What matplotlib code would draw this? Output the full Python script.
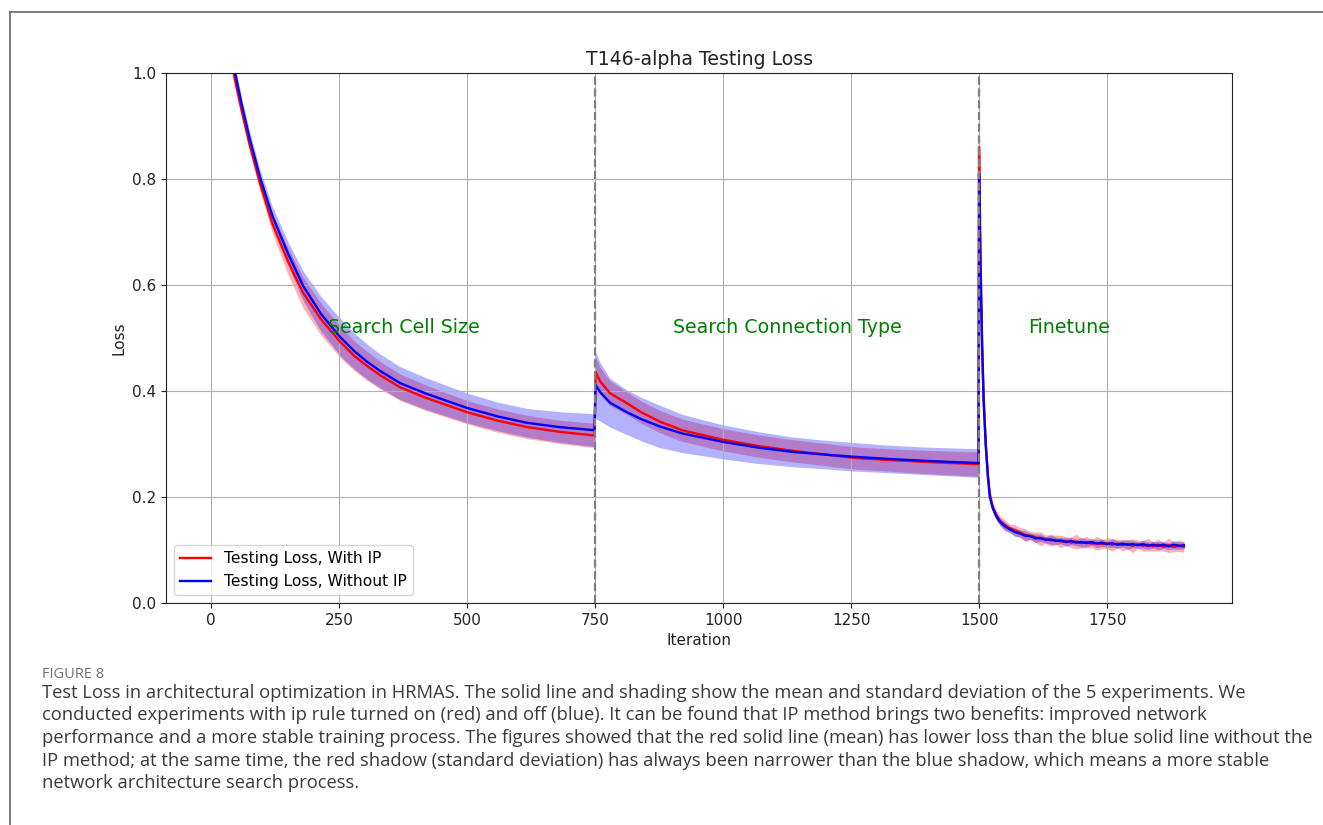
import matplotlib
matplotlib.use("Agg")
import matplotlib.pyplot as plt
from matplotlib.lines import Line2D

plt.rcParams["font.family"] = ["DejaVu Sans"]

# values
iteration = [
    5, 20, 35, 47, 60, 75, 96, 120, 150, 180, 215, 252, 280, 305, 330, 369,
    420, 500, 560, 617, 680, 749,
    751, 760, 779, 812, 840, 877, 920, 1000, 1070, 1137, 1200, 1254, 1320,
    1400, 1499,
    1500, 1503, 1506, 1509, 1513, 1517, 1521, 1527, 1534, 1541, 1550, 1560,
    1570, 1580, 1590, 1600, 1610, 1620, 1630, 1640, 1650, 1660, 1670, 1680,
    1690, 1700, 1710, 1720, 1730, 1740, 1750, 1760, 1770, 1780, 1790, 1800,
    1810, 1820, 1830, 1840, 1850, 1860, 1870, 1880, 1890, 1900,
]

loss_with_ip = [
    1.24, 1.14, 1.05, 0.985, 0.928, 0.866, 0.790, 0.715, 0.645, 0.585, 0.535,
    0.493, 0.466, 0.447, 0.430, 0.407, 0.387, 0.360, 0.344, 0.332, 0.323,
    0.316,
    0.436, 0.418, 0.396, 0.377, 0.360, 0.342, 0.326, 0.308, 0.296, 0.287,
    0.280, 0.274, 0.270, 0.266, 0.262,
    0.860, 0.640, 0.490, 0.385, 0.300, 0.245, 0.205, 0.180, 0.165, 0.155,
    0.147, 0.141, 0.137, 0.133, 0.128, 0.127, 0.124, 0.121, 0.121, 0.118,
    0.119, 0.116, 0.117, 0.114, 0.116, 0.113, 0.115, 0.112, 0.113, 0.111,
    0.113, 0.110, 0.112, 0.109, 0.111, 0.108, 0.111, 0.108, 0.110, 0.107,
    0.110, 0.106, 0.109, 0.106, 0.108, 0.106,
]

std_with_ip = [
    0.010, 0.010, 0.010, 0.010, 0.011, 0.012, 0.014, 0.018, 0.025, 0.029,
    0.030, 0.030, 0.028, 0.027, 0.026, 0.025, 0.024, 0.022, 0.022, 0.022,
    0.022, 0.023,
    0.028, 0.026, 0.023, 0.021, 0.021, 0.021, 0.021, 0.021, 0.021, 0.021,
    0.021, 0.021, 0.021, 0.022, 0.023,
    0.015, 0.015, 0.014, 0.013, 0.012, 0.011, 0.010, 0.009, 0.009, 0.009,
    0.010, 0.008, 0.011, 0.009, 0.012, 0.008, 0.010, 0.013, 0.008, 0.011,
    0.009, 0.012, 0.008, 0.010, 0.014, 0.009, 0.011, 0.008, 0.013, 0.009,
    0.010, 0.012, 0.008, 0.011, 0.009, 0.013, 0.008, 0.010, 0.012, 0.009,
    0.011, 0.008, 0.014, 0.009, 0.011, 0.010,
]

loss_without_ip = [
    1.25, 1.15, 1.06, 1.00, 0.940, 0.878, 0.802, 0.730, 0.660, 0.598, 0.545,
    0.502, 0.475, 0.455, 0.438, 0.415, 0.395, 0.368, 0.352, 0.340, 0.332,
    0.326,
    0.411, 0.398, 0.378, 0.360, 0.347, 0.333, 0.320, 0.304, 0.293, 0.285,
    0.280, 0.276, 0.272, 0.268, 0.264,
    0.810, 0.620, 0.480, 0.380, 0.300, 0.240, 0.200, 0.178, 0.163, 0.153,
    0.145, 0.139, 0.134, 0.131, 0.127, 0.126, 0.122, 0.123, 0.119, 0.120,
    0.117, 0.118, 0.115, 0.117, 0.114, 0.115, 0.113, 0.115, 0.112, 0.114,
    0.111, 0.113, 0.110, 0.112, 0.110, 0.111, 0.109, 0.111, 0.108, 0.110,
    0.108, 0.110, 0.107, 0.110, 0.108, 0.109,
]

std_without_ip = [
    0.012, 0.012, 0.012, 0.012, 0.012, 0.013, 0.014, 0.017, 0.022, 0.028,
    0.033, 0.035, 0.034, 0.033, 0.032, 0.031, 0.030, 0.028, 0.027, 0.027,
    0.029, 0.031,
    0.063, 0.055, 0.046, 0.042, 0.041, 0.040, 0.036, 0.032, 0.030, 0.028,
    0.027, 0.027, 0.026, 0.026, 0.027,
    0.012, 0.012, 0.012, 0.011, 0.010, 0.009, 0.008, 0.007, 0.007, 0.007,
    0.008, 0.006, 0.008, 0.007, 0.009, 0.006, 0.008, 0.007, 0.006, 0.009,
    0.007, 0.006, 0.008, 0.007, 0.006, 0.009, 0.007, 0.006, 0.008, 0.007,
    0.006, 0.008, 0.007, 0.006, 0.009, 0.007, 0.006, 0.008, 0.007, 0.006,
    0.008, 0.007, 0.006, 0.008, 0.007, 0.007,
]

phase_starts = [750, 1500]
phase_names = ["Search Cell Size", "Search Connection Type", "Finetune"]
phase_label_x = [377, 1125, 1676]

caption_head = "FIGURE 8"
caption_lines = [
    "Test Loss in architectural optimization in HRMAS. The solid line and shading show the mean and standard deviation of the 5 experiments. We",
    "conducted experiments with ip rule turned on (red) and off (blue). It can be found that IP method brings two benefits: improved network",
    "performance and a more stable training process. The figures showed that the red solid line (mean) has lower loss than the blue solid line without the",
    "IP method; at the same time, the red shadow (standard deviation) has always been narrower than the blue shadow, which means a more stable",
    "network architecture search process.",
]

W, H = 1323, 825
fig = plt.figure(figsize=(W / 100, H / 100), dpi=100)
ax = fig.add_axes([166 / W, 1 - 603 / H, (1232 - 166) / W, (603 - 73) / H])

lo_r = [m - s for m, s in zip(loss_with_ip, std_with_ip)]
hi_r = [m + s for m, s in zip(loss_with_ip, std_with_ip)]
lo_b = [m - s for m, s in zip(loss_without_ip, std_without_ip)]
hi_b = [m + s for m, s in zip(loss_without_ip, std_without_ip)]

ax.fill_between(iteration, lo_r, hi_r, color="red", alpha=0.3, lw=0)
ax.fill_between(iteration, lo_b, hi_b, color="blue", alpha=0.3, lw=0)
ax.plot(iteration, loss_with_ip, color="red", lw=1.7, label="Testing Loss, With IP")
ax.plot(iteration, loss_without_ip, color="blue", lw=1.7, label="Testing Loss, Without IP")

for x in phase_starts:
    ax.axvline(x, color="gray", ls="--", lw=1.6)

for name, x in zip(phase_names, phase_label_x):
    ax.text(x, 0.52, name, color="green", fontsize=13.7, ha="center", va="center")

ax.set_xlim(-88, 1994)
ax.set_ylim(0, 1.0)
ax.set_xticks([0, 250, 500, 750, 1000, 1250, 1500, 1750])
ax.set_yticks([0.0, 0.2, 0.4, 0.6, 0.8, 1.0])
ax.tick_params(labelsize=11, colors="#222222")
for sp in ax.spines.values():
    sp.set_color("#222222")
ax.grid(True)
ax.set_title("T146-alpha Testing Loss", fontsize=13.6, color="#222222")
ax.set_xlabel("Iteration", fontsize=11, color="#222222")
ax.set_ylabel("Loss", fontsize=11, color="#222222")
ax.legend(loc="lower left", fontsize=11.2)

# page frame and caption
fig.add_artist(Line2D([10 / W, 1], [1 - 12 / H, 1 - 12 / H], color="#666666", lw=1.2))
fig.add_artist(Line2D([10 / W, 10 / W], [0, 1 - 12 / H], color="#666666", lw=1.2))

fig.text(42 / W, 1 - 675 / H, caption_head, fontsize=10.5, color="#707070",
         family="Open Sans", va="center")
for i, line in enumerate(caption_lines):
    fig.text(42 / W, 1 - (693 + 22.5 * i) / H, line, fontsize=13.2,
             color="#3a3a3a", family="Open Sans", va="center")

fig.savefig("out.png", dpi=100)
